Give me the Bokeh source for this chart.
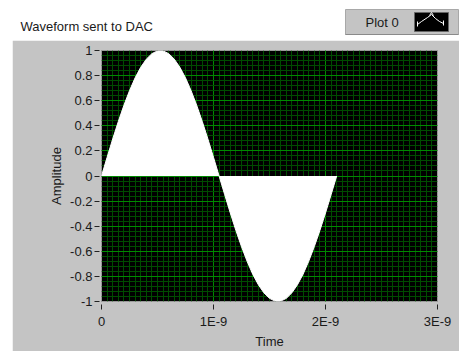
from bokeh.plotting import figure
from bokeh.layouts import column, row
from bokeh.models import Range1d, FixedTicker, Spacer
from bokeh.core.properties import value
from bokeh.embed import file_html
from bokeh.resources import INLINE
import numpy as np

# ---- data (time in units of 1E-9 s) ----
time_ns = [0.00, 0.05, 0.10, 0.15, 0.20, 0.25, 0.30, 0.35, 0.40, 0.45, 0.50,
           0.55, 0.60, 0.65, 0.70, 0.75, 0.80, 0.85, 0.90, 0.95, 1.00, 1.05,
           1.10, 1.15, 1.20, 1.25, 1.30, 1.35, 1.40, 1.45, 1.50, 1.55, 1.60,
           1.65, 1.70, 1.75, 1.80, 1.85, 1.90, 1.95, 2.00, 2.05, 2.10]
amplitude = [0.000, 0.149, 0.295, 0.434, 0.563, 0.680, 0.782, 0.866, 0.931, 0.975, 0.997,
             0.997, 0.975, 0.931, 0.866, 0.782, 0.680, 0.563, 0.434, 0.295, 0.149, 0.000,
             -0.149, -0.295, -0.434, -0.563, -0.680, -0.782, -0.866, -0.931, -0.975, -0.997,
             -0.997, -0.975, -0.931, -0.866, -0.782, -0.680, -0.563, -0.434, -0.295, -0.149, 0.000]

x_ticks = [0, 1, 2, 3]
x_tick_labels = ["0", "1E-9", "2E-9", "3E-9"]
y_ticks = [-1, -0.8, -0.6, -0.4, -0.2, 0, 0.2, 0.4, 0.6, 0.8, 1]
y_tick_labels = ["-1", "-0.8", "-0.6", "-0.4", "-0.2", "0", "0.2", "0.4", "0.6", "0.8", "1"]

title_text = "Waveform sent to DAC"
legend_text = "Plot 0"
x_label = "Time"
y_label = "Amplitude"

FONT = "Liberation Sans"
PANEL = "#c4c4c4"
TXT = "#1a1a1a"

# ---------- header strip (title + plot legend), pixel coordinates ----------
hdr = figure(width=459, height=40, output_backend="svg", toolbar_location=None,
             x_range=Range1d(0, 459), y_range=Range1d(40, 0),
             min_border=0, min_border_left=0, min_border_right=0,
             min_border_top=0, min_border_bottom=0)
hdr.axis.visible = False
hdr.grid.visible = False
hdr.outline_line_color = None
hdr.background_fill_color = "white"
hdr.border_fill_color = "white"

hdr.quad(left=[345], right=[458], top=[9], bottom=[34], fill_color=PANEL, line_color="#a8a8a8")
hdr.line(x=[345, 458], y=[34, 34], line_color="#8a8a8a")
hdr.quad(left=[414], right=[448], top=[12], bottom=[31], fill_color="black", line_color="#666666")
hdr.line(x=[417, 421, 427, 431, 435, 439, 443], y=[24, 21, 17, 14, 18, 21, 23],
         line_color="white", line_width=1)
hdr.line(x=[417, 417], y=[21, 26], line_color="white")
hdr.line(x=[429, 431, 433], y=[15, 12, 15], line_color="white")
hdr.line(x=[443, 443], y=[20, 25], line_color="white")
hdr.text(x=[365], y=[21.5], text=[legend_text], text_font=value(FONT), text_font_size="13px",
         text_color=TXT, text_baseline="middle")
hdr.text(x=[20], y=[26], text=[title_text], text_font=value(FONT), text_font_size="13px",
         text_color=TXT, text_baseline="middle")

# ---------- main graph ----------
p = figure(width=447, height=311, output_backend="svg", toolbar_location=None,
           x_range=Range1d(0, 3), y_range=Range1d(-1, 1),
           min_border_left=89, min_border_right=22, min_border_top=10, min_border_bottom=46)
p.background_fill_color = "black"
p.border_fill_color = PANEL
p.outline_line_color = "#9a9a9a"

p.xaxis.ticker = FixedTicker(ticks=x_ticks, minor_ticks=list(np.round(np.arange(0, 3.001, 0.05), 3)))
p.yaxis.ticker = FixedTicker(ticks=y_ticks, minor_ticks=list(np.round(np.arange(-1, 1.001, 0.04), 3)))
p.xaxis.major_label_overrides = dict(zip(x_ticks, x_tick_labels))
p.yaxis.major_label_overrides = dict(zip(y_ticks, y_tick_labels))

for ax in (p.xaxis, p.yaxis):
    ax.axis_line_color = None
    ax.minor_tick_line_color = None
    ax.major_tick_line_color = "#222222"
    ax.major_label_text_font = FONT
    ax.major_label_text_font_size = "13px"
    ax.major_label_text_color = TXT
    ax.axis_label_text_font = FONT
    ax.axis_label_text_font_size = "13px"
    ax.axis_label_text_font_style = "normal"
    ax.axis_label_text_color = TXT
p.xaxis.major_tick_in = -3
p.xaxis.major_tick_out = 8
p.xaxis.major_label_standoff = 4
p.xaxis.axis_label = x_label
p.xaxis.axis_label_standoff = 2
p.yaxis.major_tick_in = -2
p.yaxis.major_tick_out = 7
p.yaxis.major_label_standoff = 2
p.yaxis.axis_label = y_label
p.yaxis.axis_label_standoff = 3

for g in (p.xgrid, p.ygrid):
    g.grid_line_color = "#008a00"
    g.grid_line_width = 1
    g.minor_grid_line_color = "#004c00"
    g.minor_grid_line_width = 1

p.varea(x=time_ns, y1=0, y2=amplitude, fill_color="white")
p.line(x=time_ns, y=amplitude, line_color="white", line_width=1)

layout = column(hdr, row(Spacer(width=12, height=311), p))
open("out.html", "w").write(file_html(layout, INLINE))
